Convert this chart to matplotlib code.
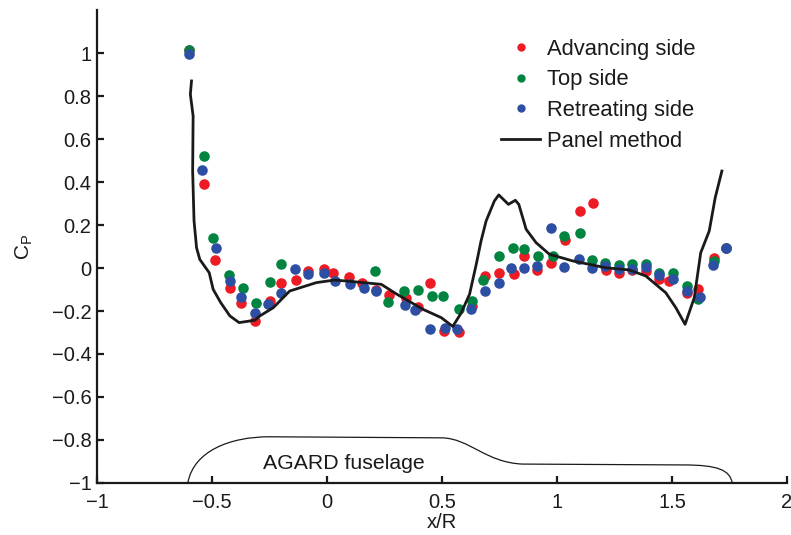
import matplotlib
matplotlib.use("Agg")
import matplotlib.pyplot as plt
from matplotlib.lines import Line2D
from matplotlib.path import Path
from matplotlib.patches import PathPatch
import numpy as np

plt.rcParams['font.family'] = ['Liberation Sans', 'DejaVu Sans']
plt.rcParams['mathtext.fontset'] = 'custom'
plt.rcParams['mathtext.rm'] = 'Liberation Sans'
plt.rcParams['mathtext.it'] = 'Liberation Sans:italic'

# ---------------- data ----------------
adv_x = [-0.600, -0.535, -0.489, -0.422, -0.372, -0.311, -0.249, -0.201, -0.133, -0.082,
         -0.014, 0.026, 0.094, 0.152, 0.214, 0.269, 0.342, 0.395, 0.449, 0.507,
         0.573, 0.631, 0.689, 0.747, 0.815, 0.858, 0.913, 0.974, 1.036, 1.100,
         1.155, 1.213, 1.271, 1.326, 1.386, 1.444, 1.488, 1.567, 1.615, 1.684, 1.737]
adv_y = [1.013, 0.392, 0.036, -0.094, -0.161, -0.247, -0.153, -0.071, -0.056, -0.014,
         -0.006, -0.022, -0.040, -0.068, -0.102, -0.126, -0.141, -0.180, -0.068, -0.293,
         -0.298, -0.177, -0.037, -0.025, -0.029, 0.056, -0.009, 0.025, 0.130, 0.265,
         0.301, -0.011, -0.022, -0.011, -0.014, -0.053, -0.060, -0.115, -0.099, 0.048, 0.095]

top_x = [-0.600, -0.535, -0.496, -0.428, -0.365, -0.307, -0.249, -0.198, 0.207, 0.266,
         0.333, 0.395, 0.457, 0.504, 0.573, 0.631, 0.680, 0.747, 0.808, 0.858,
         0.919, 0.981, 1.029, 1.100, 1.152, 1.209, 1.271, 1.326, 1.386, 1.444,
         1.505, 1.567, 1.615, 1.684, 1.737]
top_y = [1.013, 0.521, 0.141, -0.034, -0.092, -0.161, -0.065, 0.017, -0.014, -0.157,
         -0.107, -0.102, -0.130, -0.130, -0.192, -0.153, -0.057, 0.056, 0.094, 0.087,
         0.056, 0.056, 0.149, 0.161, 0.036, 0.025, 0.014, 0.017, 0.020, -0.022,
         -0.022, -0.084, -0.146, 0.033, 0.095]

ret_x = [-0.600, -0.543, -0.482, -0.422, -0.372, -0.311, -0.256, -0.201, -0.138, -0.082,
         -0.014, 0.033, 0.099, 0.159, 0.214, 0.339, 0.381, 0.446, 0.515, 0.566,
         0.628, 0.685, 0.747, 0.801, 0.858, 0.913, 0.974, 1.029, 1.094, 1.152,
         1.209, 1.271, 1.326, 1.386, 1.444, 1.505, 1.567, 1.621, 1.679, 1.737]
ret_y = [0.994, 0.454, 0.094, -0.060, -0.135, -0.209, -0.169, -0.115, -0.006, -0.026,
         -0.022, -0.060, -0.073, -0.092, -0.107, -0.172, -0.195, -0.285, -0.278, -0.285,
         -0.192, -0.107, -0.068, -0.001, -0.001, 0.009, 0.187, 0.005, 0.040, 0.001,
         0.009, -0.003, -0.006, 0.005, -0.034, -0.053, -0.107, -0.135, 0.014, 0.092]

panel_x = [-0.589, -0.594, -0.582, -0.584, -0.578, -0.567, -0.553, -0.512, -0.495, -0.462,
           -0.422, -0.382, -0.314, -0.292, -0.234, -0.162, -0.046, 0.033, 0.099, 0.236,
           0.301, 0.417, 0.497, 0.547, 0.583, 0.620, 0.649, 0.670, 0.692, 0.728,
           0.747, 0.789, 0.819, 0.834, 0.866, 0.909, 0.967, 1.068, 1.213, 1.314,
           1.386, 1.473, 1.517, 1.557, 1.597, 1.625, 1.662, 1.688, 1.717]
panel_y = [0.870, 0.808, 0.707, 0.451, 0.219, 0.094, 0.040, -0.022, -0.099, -0.161,
           -0.223, -0.254, -0.243, -0.223, -0.185, -0.107, -0.068, -0.056, -0.062, -0.076,
           -0.120, -0.192, -0.231, -0.272, -0.210, -0.122, 0.017, 0.126, 0.219, 0.312,
           0.340, 0.296, 0.315, 0.296, 0.180, 0.118, 0.064, 0.033, 0.001, -0.009,
           -0.037, -0.115, -0.185, -0.262, -0.138, 0.071, 0.172, 0.327, 0.451]

# fuselage outline: Bezier vertices (start, then triples of control/control/end or single line ends)
fus_vertices = [(-0.605, -1.000),
                (-0.580, -0.850), (-0.420, -0.785), (-0.250, -0.785),   # nose (cubic)
                (0.500, -0.790),                                        # straight
                (0.620, -0.793), (0.690, -0.905), (0.850, -0.912),      # shoulder (cubic)
                (1.550, -0.916),                                        # straight
                (1.700, -0.916), (1.752, -0.940), (1.762, -1.000)]      # tail (cubic)
fus_codes = [Path.MOVETO,
             Path.CURVE4, Path.CURVE4, Path.CURVE4,
             Path.LINETO,
             Path.CURVE4, Path.CURVE4, Path.CURVE4,
             Path.LINETO,
             Path.CURVE4, Path.CURVE4, Path.CURVE4]

xticks = [-1, -0.5, 0, 0.5, 1, 1.5, 2]
xticklabels = ['\u22121', '\u22120.5', '0', '0.5', '1', '1.5', '2']
yticks = [-1, -0.8, -0.6, -0.4, -0.2, 0, 0.2, 0.4, 0.6, 0.8, 1]
yticklabels = ['\u22121', '\u22120.8', '\u22120.6', '\u22120.4', '\u22120.2', '0',
               '0.2', '0.4', '0.6', '0.8', '1']

labels = ['Advancing side', 'Top side', 'Retreating side', 'Panel method']
c_red = '#ED1C24'
c_green = '#00843F'
c_blue = '#2D4FA3'
c_ink = '#1a1a1a'

# ---------------- figure ----------------
fig = plt.figure(figsize=(7.91, 5.35), dpi=100)
ax = fig.add_axes([0.1226, 0.0972, 0.9949 - 0.1226, 0.9813 - 0.0972])

ms = 7.6
ax.plot(adv_x, adv_y, 'o', color=c_red, ms=ms, mec='none')
ax.plot(top_x, top_y, 'o', color=c_green, ms=ms, mec='none')
ax.plot(ret_x, ret_y, 'o', color=c_blue, ms=ms, mec='none')
ax.plot(panel_x, panel_y, '-', color=c_ink, lw=2.0)

fus = PathPatch(Path(fus_vertices, fus_codes), facecolor='none', edgecolor=c_ink,
                lw=0.9, clip_on=False)
ax.add_patch(fus)
ax.text(0.075, -0.910, 'AGARD fuselage', fontsize=15.3, ha='center', va='center', color=c_ink)

ax.set_xlim(-1, 2)
ax.set_ylim(-1, 1.2)
ax.set_xticks(xticks)
ax.set_xticklabels(xticklabels)
ax.set_yticks(yticks)
ax.set_yticklabels(yticklabels)

for s in ['top', 'right']:
    ax.spines[s].set_visible(False)
for s in ['left', 'bottom']:
    ax.spines[s].set_linewidth(1.6)
    ax.spines[s].set_color(c_ink)
ax.tick_params(direction='in', length=5, width=1.6, labelsize=14.5, colors=c_ink)
ax.tick_params(axis='x', pad=7)
ax.tick_params(axis='y', pad=4)

ax.set_xlabel('x/R', fontsize=14.5, labelpad=1, color=c_ink)
ax.set_ylabel(r'C$_\mathrm{P}$', fontsize=15, labelpad=12, color=c_ink)

handles = [
    Line2D([], [], ls='none', marker='o', color=c_red, ms=6, mec='none'),
    Line2D([], [], ls='none', marker='o', color=c_green, ms=6, mec='none'),
    Line2D([], [], ls='none', marker='o', color=c_blue, ms=6, mec='none'),
    Line2D([], [], ls='-', color=c_ink, lw=2.0),
]
leg = ax.legend(handles, labels, loc='upper left', bbox_to_anchor=(0.563, 0.972),
                frameon=False, fontsize=15.8, handlelength=1.8, handletextpad=0.3,
                labelspacing=0.44, borderaxespad=0.3)
for t in leg.get_texts():
    t.set_color(c_ink)

fig.savefig('out.png', dpi=100)
